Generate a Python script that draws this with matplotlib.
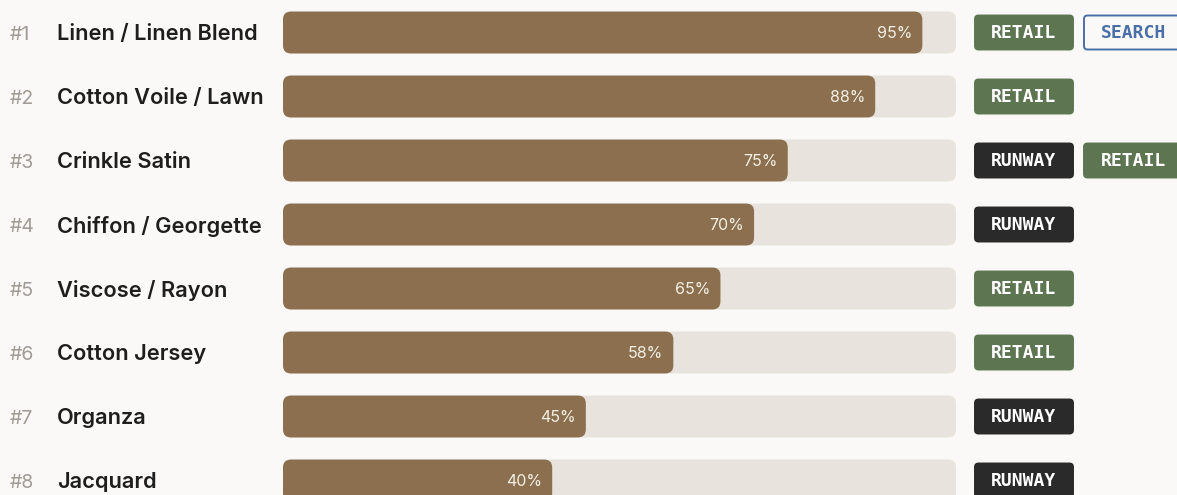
import matplotlib
matplotlib.use("Agg")
import matplotlib.pyplot as plt
from matplotlib.patches import FancyBboxPatch

# ---- data ----
ranks = ["#1", "#2", "#3", "#4", "#5", "#6", "#7", "#8"]
fabrics = ["Linen / Linen Blend", "Cotton Voile / Lawn", "Crinkle Satin",
           "Chiffon / Georgette", "Viscose / Rayon", "Cotton Jersey",
           "Organza", "Jacquard"]
scores = [95, 88, 75, 70, 65, 58, 45, 40]
tags = [["RETAIL", "SEARCH"], ["RETAIL"], ["RUNWAY", "RETAIL"], ["RUNWAY"],
        ["RETAIL"], ["RETAIL"], ["RUNWAY"], ["RUNWAY"]]

# ---- style ----
W, H, DPI = 1177, 495, 100
BG = "#FAF9F7"
TRACK = "#E8E4DD"
BAR = "#8B6F4E"
TAG_STYLE = {
    "RETAIL": dict(face="#5E7552", edge="#5E7552", text="#FFFFFF"),
    "RUNWAY": dict(face="#2A2A2A", edge="#2A2A2A", text="#FFFFFF"),
    "SEARCH": dict(face="#FAF9F7", edge="#4A6FA8", text="#4A6FA8"),
}
ROW0, ROWSTEP = 32.5, 64.0
BAR_X0, BAR_W = 283, 673

fig = plt.figure(figsize=(W / DPI, H / DPI), dpi=DPI, facecolor=BG)

pa = fig.add_axes([0, 0, 1, 1])
pa.set_xlim(0, W)
pa.set_ylim(H, 0)
pa.axis("off")
pa.set_facecolor("none")

ba = fig.add_axes([BAR_X0 / W, 0, BAR_W / W, 1])
ba.set_xlim(0, 100)
ba.set_ylim((H - ROW0) / ROWSTEP, -ROW0 / ROWSTEP)
ba.axis("off")
ba.set_facecolor("none")

px_per_x = BAR_W / 100.0
rad_px = 8.0
bar_h = 0.655
aspect = px_per_x / ROWSTEP

for i, v in enumerate(scores):
    track = FancyBboxPatch((0, i - bar_h / 2), 100, bar_h,
                           boxstyle=f"round,pad=0,rounding_size={rad_px / px_per_x}",
                           mutation_aspect=aspect, fc=TRACK, ec="none", zorder=1)
    ba.add_patch(track)
    bar = FancyBboxPatch((0, i - bar_h / 2), v, bar_h,
                         boxstyle=f"round,pad=0,rounding_size={rad_px / px_per_x}",
                         mutation_aspect=aspect, fc=BAR, ec="none", zorder=2)
    ba.add_patch(bar)
    ba.text(v - 10 / px_per_x, i, f"{v}%", ha="right", va="center_baseline",
            fontsize=11.5, family=["Inter", "DejaVu Sans"], color="#F5EFE6", zorder=3)

for i, (r, name) in enumerate(zip(ranks, fabrics)):
    y = ROW0 + ROWSTEP * i
    pa.text(10, y, r, ha="left", va="center_baseline", fontsize=14,
            family=["Inter", "DejaVu Sans"], color="#A09B95")
    pa.text(57, y, name, ha="left", va="center_baseline", fontsize=15.7,
            family=["Inter", "DejaVu Sans"], weight="semibold", color="#1E1E1E")

TAG_X0, TAG_W, TAG_H, TAG_GAP = 975, 98, 34, 11
for i, row in enumerate(tags):
    y = ROW0 + ROWSTEP * i
    x = TAG_X0
    for t in row:
        st = TAG_STYLE[t]
        box = FancyBboxPatch((x, y - TAG_H / 2), TAG_W, TAG_H,
                             boxstyle="round,pad=0,rounding_size=3.5",
                             fc=st["face"], ec=st["edge"], lw=1.4, zorder=2)
        pa.add_patch(box)
        pa.text(x + TAG_W / 2, y + 0.5, t, ha="center", va="center", fontsize=13,
                family=["DejaVu Sans Mono"], weight="bold", color=st["text"], zorder=3)
        x += TAG_W + TAG_GAP

fig.savefig("out.png", dpi=DPI, facecolor=BG)
